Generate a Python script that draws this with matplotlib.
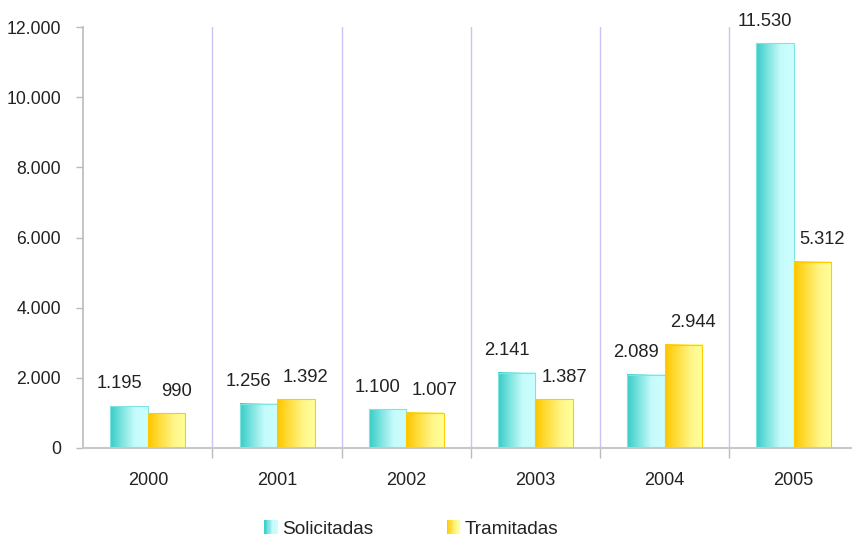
import matplotlib

matplotlib.use("Agg")
import matplotlib.pyplot as plt
import numpy as np
from matplotlib.colors import LinearSegmentedColormap
from matplotlib.legend_handler import HandlerBase
from matplotlib.patches import Rectangle

years = ["2000", "2001", "2002", "2003", "2004", "2005"]
solicitadas = [1195, 1256, 1100, 2141, 2089, 11530]
tramitadas = [990, 1392, 1007, 1387, 2944, 5312]
series_names = ["Solicitadas", "Tramitadas"]

plt.rcParams["font.family"] = ["Liberation Sans", "DejaVu Sans"]
TEXT = "#222222"

cyan_map = LinearSegmentedColormap.from_list(
    "cyan", [(0.0, "#38CCC6"), (0.15, "#5AD8D3"), (0.65, "#C6FBFB"), (1.0, "#CCFFFF")]
)
gold_map = LinearSegmentedColormap.from_list(
    "gold", [(0.0, "#FFC400"), (0.2, "#FFD626"), (0.7, "#FFF68A"), (1.0, "#FFFF99")]
)
gradient = np.linspace(0, 1, 64).reshape(1, -1)


def fmt(value):
    return f"{value:,}".replace(",", ".")


class GradientHandler(HandlerBase):
    def __init__(self, cmap):
        super().__init__()
        self.cmap = cmap

    def create_artists(self, legend, orig_handle, xdescent, ydescent, width, height, fontsize, trans):
        size = height
        x0 = -xdescent + width - size
        y0 = -ydescent
        steps = 10
        artists = []
        for i in range(steps):
            r = Rectangle(
                (x0 + size * i / steps, y0), size / steps + 0.1, size,
                facecolor=self.cmap((i + 0.5) / steps), edgecolor="none", transform=trans,
            )
            artists.append(r)
        return artists


fig = plt.figure(figsize=(8.52, 5.38), dpi=100)
ax = fig.add_axes([83.3 / 852, 90 / 538, 775 / 852, 421 / 538])

width = 0.29
x = np.arange(len(years)) + 0.5
for values, offset, cmap, edge, nudge in [
    (solicitadas, -width / 2, cyan_map, "#7FE3DF", -0.078),
    (tramitadas, width / 2, gold_map, "#FFCC00", 0.078),
]:
    for xi, v in zip(x, values, strict=True):
        left = xi + offset - width / 2
        ax.imshow(
            gradient, cmap=cmap, aspect="auto", extent=[left, left + width, 0, v],
            interpolation="bilinear", zorder=2,
        )
        ax.add_patch(Rectangle((left, 0), width, v, fill=False, edgecolor=edge, linewidth=0.8, zorder=3))
        ax.text(xi + offset + nudge, v + 630, fmt(v), ha="center", va="center", fontsize=13.2, color=TEXT)

ax.set_xlim(0, len(years))
ax.set_ylim(0, 12000)

for b in range(1, len(years)):
    ax.axvline(b, color="#CBC3F2", linewidth=1, zorder=1)

ax.set_yticks(range(0, 12001, 2000))
ax.set_yticklabels([fmt(v) for v in range(0, 12001, 2000)])
ax.set_xticks(x)
ax.set_xticklabels(years)
ax.set_xticks(range(1, len(years)), minor=True)
ax.tick_params(axis="x", which="major", length=0, pad=17, labelsize=13, colors=TEXT)
ax.tick_params(axis="x", which="minor", length=7, color="#BBBBBB", width=1)
ax.tick_params(axis="y", length=5, color="#BBBBBB", width=1, pad=11, labelsize=12.7, labelcolor=TEXT)

for side in ("top", "right"):
    ax.spines[side].set_visible(False)
ax.spines["left"].set_color("#BBBBBB")
ax.spines["bottom"].set_color("#C8C8C8")
ax.spines["left"].set_linewidth(1.2)
ax.spines["bottom"].set_linewidth(1.5)

h1 = Rectangle((0, 0), 1, 1)
h2 = Rectangle((0, 0), 1, 1)
fig.legend(
    [h1, h2], series_names,
    handler_map={h1: GradientHandler(cyan_map), h2: GradientHandler(gold_map)},
    loc="center left", bbox_to_anchor=(245.4 / 852, 1 - 529 / 538), ncol=2, frameon=False,
    fontsize=13.7, handlelength=0.8, handleheight=0.7, handletextpad=0.25, columnspacing=3.73,
    labelcolor=TEXT,
)

fig.savefig("out.png", dpi=100)
